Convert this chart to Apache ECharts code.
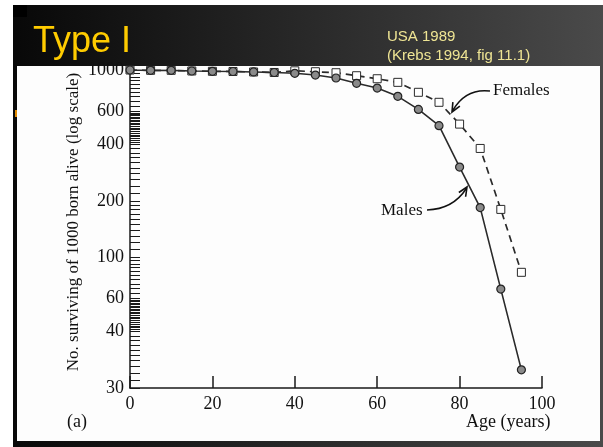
<!DOCTYPE html>
<html>
<head>
<meta charset="utf-8">
<script src="https://cdn.jsdelivr.net/npm/echarts@6/dist/echarts.min.js"></script>
<style>
html,body{margin:0;padding:0;background:#ffffff;}
#c{width:603px;height:447px;}
</style>
</head>
<body>
<div id="c"></div>
<script>
// ---- data ----
const ages = [0,5,10,15,20,25,30,35,40,45,50,55,60,65,70,75,80,85,90,95];
const males = [1000,996,996,988,984,982,976,970,960,940,906,849,801,723,616,504,303,184,67.5,25];
const females = [1000,996,996,988,984,982,976,970,990,979,967,932,898,859,760,672,514,381,180,83];
const xTicks = [0,20,40,60,80,100];
const yTickValues = [1000,600,400,200,100,60,40,20];
const yTickLabels = ["1000","600","400","200","100","60","40","30"];

// minor tick marks of the scanned log axis
const yMinorTicks = [];
for (let v = 1000; v > 600; v -= 40) yMinorTicks.push(v);
for (let v = 600; v > 400; v -= 10) yMinorTicks.push(v);
for (let v = 400; v > 200; v -= 20) yMinorTicks.push(v);
for (let v = 200; v > 100; v -= 10) yMinorTicks.push(v);
for (let v = 100; v > 60; v -= 4) yMinorTicks.push(v);
for (let v = 60; v > 40; v -= 1) yMinorTicks.push(v);
for (let v = 40; v >= 20; v -= 2) yMinorTicks.push(v);

const serif = '"Liberation Serif", "DejaVu Serif", serif';
const sans = '"Liberation Sans", Arial, sans-serif';

const chart = echarts.init(document.getElementById('c'), null, {renderer: 'canvas'});

function arrowV(tip, from, len, half) {
  const dx = tip[0] - from[0], dy = tip[1] - from[1];
  const L = Math.sqrt(dx*dx + dy*dy);
  const ux = dx / L, uy = dy / L;
  const px = -uy, py = ux;
  const bx = tip[0] - ux*len, by = tip[1] - uy*len;
  return [[bx + px*half, by + py*half], tip, [bx - px*half, by - py*half]];
}

const option = {
  animation: false,
  backgroundColor: '#ffffff',
  grid: {left: 130, right: 61, top: 70, bottom: 59, containLabel: false},
  xAxis: {
    type: 'value', min: 0, max: 100, interval: 20,
    axisLine: {show: true, lineStyle: {color: '#1a1a1a', width: 1.5}},
    axisTick: {show: true, inside: true, length: 12, customValues: xTicks, lineStyle: {color: '#1a1a1a', width: 1.5}},
    axisLabel: {customValues: xTicks, fontFamily: serif, fontSize: 18, color: '#111', margin: 7},
    splitLine: {show: false}
  },
  yAxis: {
    type: 'log', logBase: 10, min: 20, max: 1000,
    axisLine: {show: true, lineStyle: {color: '#1a1a1a', width: 1.5}},
    axisTick: {show: true, inside: true, length: 10, customValues: yMinorTicks, lineStyle: {color: '#1a1a1a', width: 1}},
    axisLabel: {
      customValues: yTickValues, fontFamily: serif, fontSize: 18, color: '#111', margin: 6,
      formatter: function (v) {
        const i = yTickValues.findIndex(t => Math.abs(t - v) / t < 0.01);
        return i >= 0 ? yTickLabels[i] : '';
      }
    },
    splitLine: {show: false},
    minorTick: {show: false}
  },
  series: [
    {
      name: 'Females', type: 'line',
      data: ages.map((a, i) => [a, females[i]]),
      symbol: 'rect', symbolSize: 8,
      itemStyle: {color: '#ffffff', borderColor: '#2a2a2a', borderWidth: 1},
      lineStyle: {color: '#2a2a2a', width: 1.7, type: [7, 5]},
      z: 3
    },
    {
      name: 'Males', type: 'line',
      data: ages.map((a, i) => [a, males[i]]),
      symbol: 'circle', symbolSize: 8,
      itemStyle: {color: '#8a8a8a', borderColor: '#222', borderWidth: 1.2},
      lineStyle: {color: '#2a2a2a', width: 1.6},
      z: 4
    }
  ],
  graphic: [
    // slide frame
    {type: 'rect', z: -100, shape: {x: 13, y: 5, width: 590, height: 442},
      style: {fill: new echarts.graphic.LinearGradient(0, 0, 1, 0, [{offset: 0, color: '#080808'}, {offset: 1, color: '#4a4a4a'}])}},
    {type: 'rect', z: -99, shape: {x: 13, y: 5, width: 14, height: 12}, style: {fill: '#000'}},
    {type: 'rect', z: -99, shape: {x: 15, y: 110, width: 2.5, height: 7}, style: {fill: '#e08a00'}},
    {type: 'rect', z: -98, shape: {x: 17, y: 66, width: 583, height: 375}, style: {fill: '#fdfdfd'}},
    // titles
    {type: 'text', z: 50, left: 33, top: 24,
      style: {text: 'Type I', font: '36px ' + sans, fill: '#ffcc00'}},
    {type: 'text', z: 50, left: 387, top: 29,
      style: {text: 'USA 1989', font: '15px ' + sans, fill: '#efe594'}},
    {type: 'text', z: 50, left: 387, top: 48,
      style: {text: '(Krebs 1994, fig 11.1)', font: '15px ' + sans, fill: '#efe594'}},
    // axis texts
    {type: 'text', z: 50, x: 74, y: 222, rotation: Math.PI / 2,
      style: {text: 'No. surviving of 1000 born alive (log scale)', font: '17px ' + serif, fill: '#111',
        align: 'center', verticalAlign: 'middle'}},
    {type: 'text', z: 50, left: 466, top: 413,
      style: {text: 'Age (years)', font: '18px ' + serif, fill: '#111'}},
    {type: 'text', z: 50, left: 67, top: 413,
      style: {text: '(a)', font: '18px ' + serif, fill: '#111'}},
    // annotations
    {type: 'text', z: 50, left: 493, top: 82,
      style: {text: 'Females', font: '17px ' + serif, fill: '#111'}},
    {type: 'text', z: 50, left: 381, top: 202,
      style: {text: 'Males', font: '17px ' + serif, fill: '#111'}},
    {type: 'bezierCurve', z: 50, shape: {x1: 490, y1: 91, cpx1: 466, cpy1: 88, x2: 453, y2: 110},
      style: {stroke: '#111', lineWidth: 1.5, fill: null}},
    {type: 'polyline', z: 50, shape: {points: arrowV([452, 112], [462, 94], 9, 4)},
      style: {stroke: '#111', lineWidth: 1.6, fill: null}},
    {type: 'bezierCurve', z: 50, shape: {x1: 427, y1: 210, cpx1: 453, cpy1: 209, x2: 466, y2: 189},
      style: {stroke: '#111', lineWidth: 1.5, fill: null}},
    {type: 'polyline', z: 50, shape: {points: arrowV([467, 187], [457, 203], 9, 4)},
      style: {stroke: '#111', lineWidth: 1.6, fill: null}}
  ]
};
chart.setOption(option);
</script>
</body>
</html>
